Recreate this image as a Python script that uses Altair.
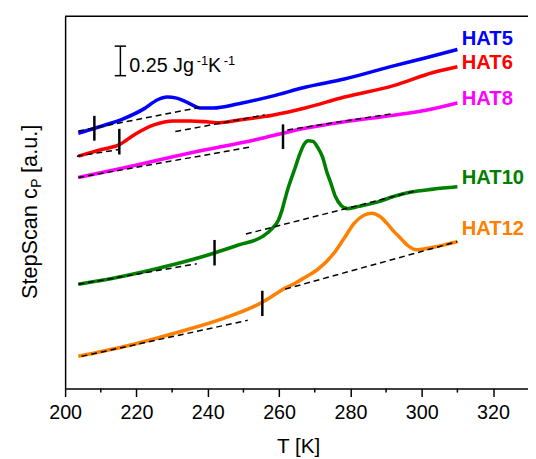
import altair as alt
import pandas as pd

FONT = "Liberation Sans"

series_names = ["HAT5", "HAT6", "HAT8", "HAT10", "HAT12"]
series_colors = ["#0000FF", "#FF0000", "#FF00FF", "#008000", "#FF8000"]

# temperature [K] and stepscan cp (a.u., J g^-1 K^-1 with offsets)
T5 = [203.7, 208.3, 216.6, 222.2, 225.8, 228.6, 231.3, 234.1, 237.8, 241.5, 248.7,
      258.1, 267.3, 278.3, 292.1, 301.2, 310.0]
C5 = [2.161, 2.203, 2.286, 2.369, 2.442, 2.467, 2.458, 2.425, 2.375, 2.375, 2.411,
      2.475, 2.550, 2.619, 2.731, 2.800, 2.869]

T6 = [203.7, 210.2, 215.2, 219.4, 224.9, 230.4, 235.0, 239.6, 243.3, 248.8, 258.1,
      267.3, 278.3, 292.1, 303.2, 310.0]
C6 = [1.967, 2.023, 2.064, 2.148, 2.231, 2.264, 2.264, 2.258, 2.250, 2.273, 2.314,
      2.375, 2.467, 2.564, 2.675, 2.723]

T8 = [203.7, 216.6, 235.0, 253.4, 267.3, 278.3, 292.1, 301.2, 310.0]
C8 = [1.786, 1.869, 1.994, 2.106, 2.203, 2.258, 2.314, 2.356, 2.417]

T10 = [203.7, 216.6, 230.4, 241.9, 248.8, 255.3, 258.1, 259.8, 260.8, 261.7, 262.6,
       263.7, 264.5, 265.9, 267.0, 268.2, 269.5, 270.8, 272.2, 273.3, 274.6, 275.8,
       277.4, 279.2, 282.4, 287.5, 292.1, 296.7, 303.2, 310.0]
C10 = [0.883, 0.953, 1.050, 1.148, 1.217, 1.286, 1.356, 1.425, 1.508, 1.608, 1.703,
       1.800, 1.869, 1.992, 2.067, 2.098, 2.092, 2.042, 1.958, 1.842, 1.731, 1.625,
       1.550, 1.523, 1.542, 1.578, 1.625, 1.661, 1.688, 1.708]

T12 = [203.7, 216.6, 230.4, 244.2, 255.3, 259.0, 261.7, 264.5, 267.3, 270.8, 275.5,
       278.3, 281.1, 283.8, 286.0, 288.2, 290.2, 292.1, 294.0, 296.2, 298.5, 300.9,
       303.2, 310.0]
C12 = [0.273, 0.356, 0.467, 0.592, 0.731, 0.800, 0.850, 0.892, 0.942, 1.008, 1.150,
       1.275, 1.400, 1.467, 1.483, 1.458, 1.400, 1.333, 1.275, 1.208, 1.175, 1.183,
       1.196, 1.244]

# dashed baselines: series, T start, cp start, T end, cp end
base_series = ["HAT5", "HAT6", "HAT6", "HAT8", "HAT8", "HAT10", "HAT10", "HAT12", "HAT12"]
base_T1 = [203.7, 203.3, 230.9, 203.7, 262.3, 203.7, 250.7, 204.6, 261.7]
base_C1 = [2.180, 1.967, 2.175, 1.786, 2.189, 0.883, 1.308, 0.273, 0.842]
base_T2 = [238.7, 215.2, 256.0, 251.6, 292.1, 236.9, 298.5, 251.2, 310.0]
base_C2 = [2.385, 2.023, 2.316, 2.042, 2.328, 1.056, 1.675, 0.578, 1.244]

# glass transition markers
tg_T = [208.2, 215.2, 261.1, 241.9, 255.3]
tg_lo = [2.098, 1.981, 2.028, 1.042, 0.614]
tg_hi = [2.308, 2.198, 2.236, 1.258, 0.828]

# series labels
label_T = [311.2, 311.2, 311.2, 311.2, 311.2]
label_C = [2.911, 2.703, 2.398, 1.731, 1.300]

# scale bar 0.25 J g^-1 K^-1
bar_T = [215.5]
bar_lo = [2.648]
bar_hi = [2.898]
cap_T1 = [213.9, 213.9]
cap_T2 = [217.1, 217.1]
cap_C = [2.648, 2.898]
scale_txt = ["0.25 Jg", "-1", "K", "-1"]
scale_txt_T = [218.0, 236.9, 240.1, 244.5]
scale_txt_C = [2.681, 2.736, 2.681, 2.736]

minor_ticks = [210, 230, 250, 270, 290, 310]
major_ticks = [200, 220, 240, 260, 280, 300, 320]

rows = []
for name, ts, cs in zip(series_names, [T5, T6, T8, T10, T12], [C5, C6, C8, C10, C12]):
    for t, c in zip(ts, cs):
        rows.append({"series": name, "T": t, "cp": c})
curves = pd.DataFrame(rows)

base_df = pd.DataFrame({"series": base_series, "T1": base_T1, "C1": base_C1,
                        "T2": base_T2, "C2": base_C2})
tg_df = pd.DataFrame({"series": series_names, "T": tg_T, "lo": tg_lo, "hi": tg_hi})
lab_df = pd.DataFrame({"series": series_names, "T": label_T, "cp": label_C})

W, H = 470, 378
xscale = alt.Scale(domain=[200, 329.8], nice=False, zero=False)
yscale = alt.Scale(domain=[0, 3.15], nice=False, zero=False)
cscale = alt.Scale(domain=series_names, range=series_colors)

xaxis = alt.Axis(values=major_ticks, format="d", labelFontSize=20, labelFont=FONT,
                 labelColor="black", labelFlush=False, labelPadding=6, tickSize=8,
                 tickWidth=1.5, tickColor="black", domainColor="black", domainWidth=1.5,
                 grid=False, title="T [K]", titleFont=FONT, titleFontSize=21,
                 titleFontWeight="normal", titleColor="black", titleY=65, titleX=236.5,
                 titleBaseline="alphabetic")
yaxis = alt.Axis(labels=False, ticks=False, title=None, grid=False,
                 domainColor="black", domainWidth=1.5)

lines = alt.Chart(curves).mark_line(strokeWidth=3.6, interpolate="monotone").encode(
    x=alt.X("T:Q", scale=xscale, axis=xaxis),
    y=alt.Y("cp:Q", scale=yscale, axis=yaxis),
    color=alt.Color("series:N", scale=cscale, legend=None),
    detail="series:N",
)

baselines = alt.Chart(base_df).mark_rule(color="black", strokeWidth=1.5,
                                          strokeDash=[6, 4]).encode(
    x=alt.X("T1:Q", scale=xscale), y=alt.Y("C1:Q", scale=yscale),
    x2="T2:Q", y2="C2:Q")

tgs = alt.Chart(tg_df).mark_rule(color="black", strokeWidth=2.5).encode(
    x=alt.X("T:Q", scale=xscale), y=alt.Y("lo:Q", scale=yscale), y2="hi:Q")

labels = alt.Chart(lab_df).mark_text(font=FONT, fontSize=20.5, fontWeight="bold",
                                     align="left", baseline="alphabetic").encode(
    x=alt.X("T:Q", scale=xscale), y=alt.Y("cp:Q", scale=yscale),
    text="series:N", color=alt.Color("series:N", scale=cscale, legend=None))

bar = alt.Chart(pd.DataFrame({"T": bar_T, "lo": bar_lo, "hi": bar_hi})).mark_rule(
    color="black", strokeWidth=1.5).encode(
    x=alt.X("T:Q", scale=xscale), y=alt.Y("lo:Q", scale=yscale), y2="hi:Q")
caps = alt.Chart(pd.DataFrame({"T1": cap_T1, "T2": cap_T2, "C": cap_C})).mark_rule(
    color="black", strokeWidth=1.5).encode(
    x=alt.X("T1:Q", scale=xscale), x2="T2:Q", y=alt.Y("C:Q", scale=yscale))

scale_text = pd.DataFrame({
    "txt": scale_txt, "T": scale_txt_T, "cp": scale_txt_C,
    "size": [20, 13, 20, 13],
})
stext = alt.Chart(scale_text).mark_text(font=FONT, align="left", baseline="alphabetic",
                                        color="black").encode(
    x=alt.X("T:Q", scale=xscale), y=alt.Y("cp:Q", scale=yscale), text="txt:N",
    size=alt.Size("size:Q", scale=None, legend=None))

minor = alt.Chart(pd.DataFrame({"T": minor_ticks})).mark_rule(
    color="black", strokeWidth=1.5).encode(
    x=alt.X("T:Q", scale=xscale), y=alt.value(H), y2=alt.value(H + 4))

top_border = alt.Chart(pd.DataFrame({"a": [0]})).mark_rule(
    color="black", strokeWidth=1.5).encode(
    x=alt.value(0), x2=alt.value(W + 10), y=alt.value(0))

ytitle_parts = pd.DataFrame({
    "txt": ["StepScan c", "P", "[a.u.]"],
    "px": [-28.7, -24.5, -28.7],
    "py": [287.0, 174.0, 159.0],
    "size": [22, 14, 22],
})
ytitle = alt.Chart(ytitle_parts).mark_text(font=FONT, align="left", baseline="alphabetic",
                                           angle=270, color="black").encode(
    x=alt.X("px:Q", scale=None), y=alt.Y("py:Q", scale=None), text="txt:N",
    size=alt.Size("size:Q", scale=None, legend=None))

chart = alt.layer(lines, baselines, tgs, labels, bar, caps, stext, minor, top_border,
                  ytitle).properties(
    width=W, height=H,
    padding={"left": 58, "top": 5, "right": 0, "bottom": 68},
    autosize=alt.AutoSizeParams(type="none"),
).configure_view(stroke=None)

chart.save("out.html", embed_options={"renderer": "svg", "actions": False})
